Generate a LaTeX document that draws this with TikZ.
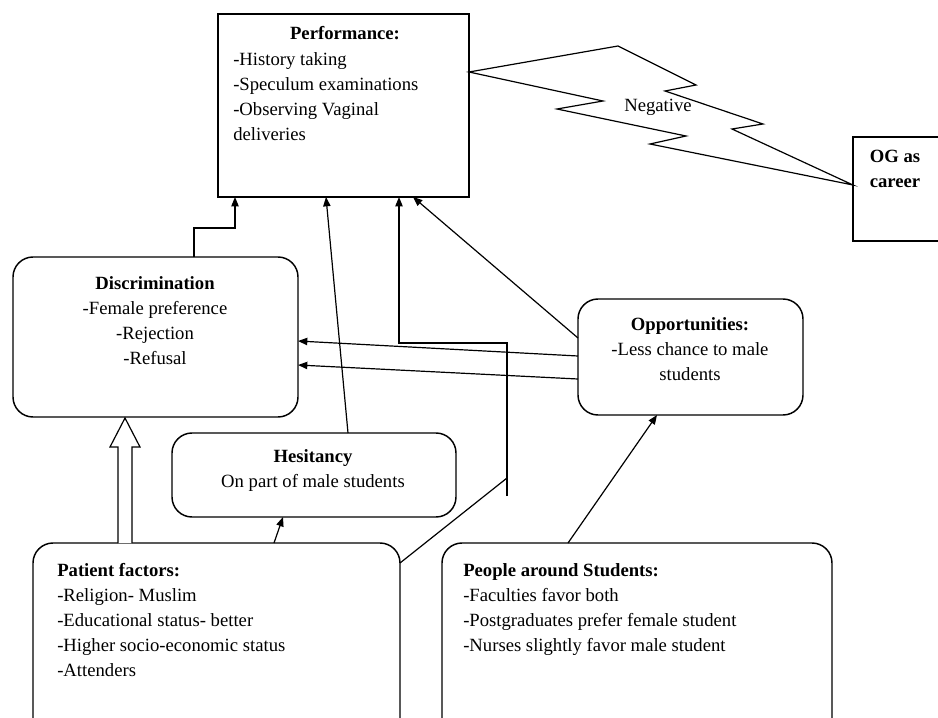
\documentclass[tikz,border=0pt]{standalone}
\usepackage{fontspec}
\setmainfont{Liberation Serif}
\usetikzlibrary{arrows.meta}
\tikzset{
  box/.style={draw, line width=1.1pt, inner sep=0pt, outer sep=0pt},
  rbox/.style={box, rounded corners=15pt},
  txt/.style={inner sep=0pt, font=\fontsize{14}{18.75}\selectfont},
  conn/.style={line width=0.9pt},
  arr/.style={conn, -{Triangle[length=7pt,width=5.5pt]}},
}
\begin{document}
\begin{tikzpicture}[x=0.75pt,y=-0.75pt]
\useasboundingbox (0,0) rectangle (938,717);
\clip (0,0) rectangle (938,717);
% boxes
\node[box, minimum width=188.25pt, minimum height=137.25pt] (perf) at (343.5,105.5) {};
\node[box, minimum width=72.75pt, minimum height=78pt] (og) at (901.5,189) {};
\node[rbox, minimum width=213.75pt, minimum height=120pt] (disc) at (155.5,337) {};
\node[rbox, minimum width=168.75pt, minimum height=87pt] (opp) at (690.5,357) {};
\node[rbox, minimum width=213pt, minimum height=63pt] (hes) at (314,475) {};
\node[rbox, minimum width=275.25pt, minimum height=162.75pt] (pat) at (216.5,651.5) {};
\node[rbox, minimum width=292.5pt, minimum height=162.75pt] (peop) at (637,651.5) {};
% texts
\node[txt, anchor=north] (perft) at (345,26) {\textbf{Performance:}};
\node[txt, anchor=north west, align=left] (perfl) at (233,52) {-History taking\\-Speculum examinations\\-Observing Vaginal\\deliveries};
\node[txt, anchor=north, align=center] (ogt) at (895,150) {\textbf{OG as}\\\textbf{career}};
\node[txt, anchor=north, align=center] (disct) at (155,276) {\textbf{Discrimination}\\-Female preference\\-Rejection\\-Refusal};
\node[txt, anchor=north, align=center] (oppt) at (690,317) {\textbf{Opportunities:}\\-Less chance to male\\students};
\node[txt, anchor=north, align=center] (hest) at (313,449) {\textbf{Hesitancy}\\On part of male students};
\node[txt, anchor=north west, align=left] (patt) at (57,563) {\textbf{Patient factors:}\\-Religion- Muslim\\-Educational status- better\\-Higher socio-economic status\\-Attenders};
\node[txt, anchor=north west, align=left] (peopt) at (463,563) {\textbf{People around Students:}\\-Faculties favor both\\-Postgraduates prefer female student\\-Nurses slightly favor male student};
% lightning
\draw[conn, line join=miter] ([yshift=-43.5pt]perf.north east) -- (618,46) -- (696,85) -- (665,91) -- (763,124) -- (732,129) -- ([yshift=-36pt]og.north west)
  -- (650,144) -- (686,136) -- (557,109) -- (603,101) -- cycle;
\node[txt] (neg) at (658,107) {Negative};
% connectors
\draw[arr] ([xshift=135.75pt]disc.north west) -- ++(0,-29) -| ([xshift=12.75pt]perf.south west);
\draw[arr] ([xshift=132pt]hes.north west) -- ([xshift=81pt]perf.south west);
\coordinate (j1) at (507,478);
\coordinate (j2) at (507,496);
\coordinate (j3) at (507,343);
\draw[conn] ([yshift=-15pt]pat.north east) -- (j1);
\draw[arr] (j2) -- (j3) -| ([xshift=135.75pt]perf.south west);
\draw[arr] ([yshift=-29.25pt]opp.north west) -- ([xshift=146.25pt]perf.south west);
\draw[arr] ([yshift=-42.75pt]opp.north west) -- ([yshift=-63pt]disc.north east);
\draw[arr] ([yshift=-60pt]opp.north west) -- ([yshift=-81pt]disc.north east);
\draw[arr] ([xshift=94.5pt]peop.north west) -- ([xshift=59.25pt]opp.south west);
\draw[arr] ([xshift=180.75pt]pat.north west) -- ([xshift=83.25pt]hes.south west);
% hollow block arrow
\draw[conn, fill=white, line join=miter] (118,543) -- (118,447) -- (110,447) -- (125,418) -- (140,447) -- (132,447) -- (132,543);
\end{tikzpicture}
\end{document}
